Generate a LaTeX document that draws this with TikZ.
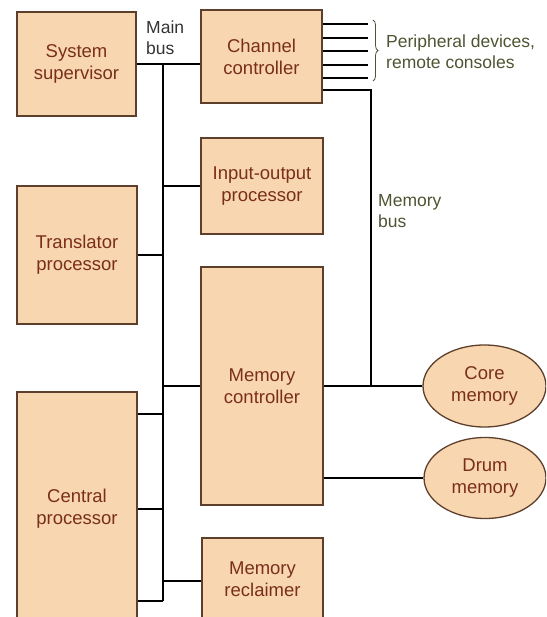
\documentclass[tikz,border=0pt]{standalone}
\usepackage{fontspec}
\setmainfont{Liberation Sans}
\usetikzlibrary{shapes.geometric,decorations.pathreplacing}
\definecolor{boxfill}{HTML}{F8D7B0}
\definecolor{boxedge}{HTML}{5E3F2B}
\definecolor{boxtext}{HTML}{7A2E1C}
\definecolor{notetext}{HTML}{4D5532}

\begin{document}
\begin{tikzpicture}[x=1pt,y=-1pt,
  unit/.style={draw=boxedge,line width=1.3pt,fill=boxfill,text=boxtext,align=center,inner sep=0pt,font=\fontsize{18.5}{22}\selectfont},
  store/.style={unit,ellipse},
  bus/.style={line width=2pt},
  note/.style={text=notetext,align=left,anchor=west,inner sep=0pt,font=\fontsize{17.5}{21}\selectfont}]
\useasboundingbox (0,0) rectangle (546,617);
\clip (0,0) rectangle (546,617);

% units
\node[unit,minimum width=119pt,minimum height=104pt] (sup) at (76.5,64) {System\\supervisor};
\node[unit,minimum width=121pt,minimum height=93pt] (chan) at (261.5,56.5) {Channel\\controller};
\node[unit,minimum width=122pt,minimum height=96pt] (io) at (262,186) {Input-output\\processor};
\node[unit,minimum width=120pt,minimum height=138pt] (trans) at (77,255) {Translator\\processor};
\node[unit,minimum width=122pt,minimum height=238pt] (memc) at (262,386) {Memory\\controller};
\node[unit,minimum width=120pt,minimum height=234pt] (cpu) at (77,509) {Central\\processor};
\node[unit,minimum width=121pt,minimum height=82pt] (recl) at (262.5,579) {Memory\\reclaimer};
\node[store,minimum width=123pt,minimum height=82pt] (core) at (484.5,386) {Core\\memory};
\node[store,minimum width=122pt,minimum height=81pt] (drum) at (485,478) {Drum\\memory};

% main bus
\coordinate (top) at (163,64);
\coordinate (bottom) at (163,601);
\draw[bus] (sup.east) -- (chan.west |- sup.east);
\draw[bus] (top) -- (bottom);
\draw[bus] (io.west) -- (io.west -| top);
\draw[bus] (trans.east) -- (trans.east -| top);
\draw[bus] (memc.west) -- (memc.west -| top);
\draw[bus] ([yshift=95pt]cpu.east) -- ([yshift=95pt]cpu.east -| top);
\draw[bus] (cpu.east) -- (cpu.east -| top);
\draw[bus] (bottom -| cpu.east) -- (bottom);
\draw[bus] ([yshift=-2pt]recl.west) -- ([yshift=-2pt]recl.west -| top);
\node[note,text=black!80] (mainbus) at (146,37.5) {Main\\bus};

% memory bus
\coordinate (mb) at (371,386);
\draw[bus] ([yshift=-33.5pt]chan.east) -| (mb);
\draw[bus] (memc.east) -- (core.west);
\draw[bus] ([yshift=-92pt]memc.east) -- (drum.west);
\node[note] (membus) at (378,211) {Memory\\bus};

% peripheral lines
\foreach \y [count=\i] in {24,38,51,65,78}{
  \coordinate (p\i) at (368,\y);
  \draw[bus] (p\i -| chan.east) -- (p\i);
}
\draw[notetext,line width=0.8pt,decorate,decoration={brace,amplitude=5pt}] (373,20) -- (373,81);
\node[note] (periph) at (386,52) {Peripheral devices,\\remote consoles};
\end{tikzpicture}
\end{document}
